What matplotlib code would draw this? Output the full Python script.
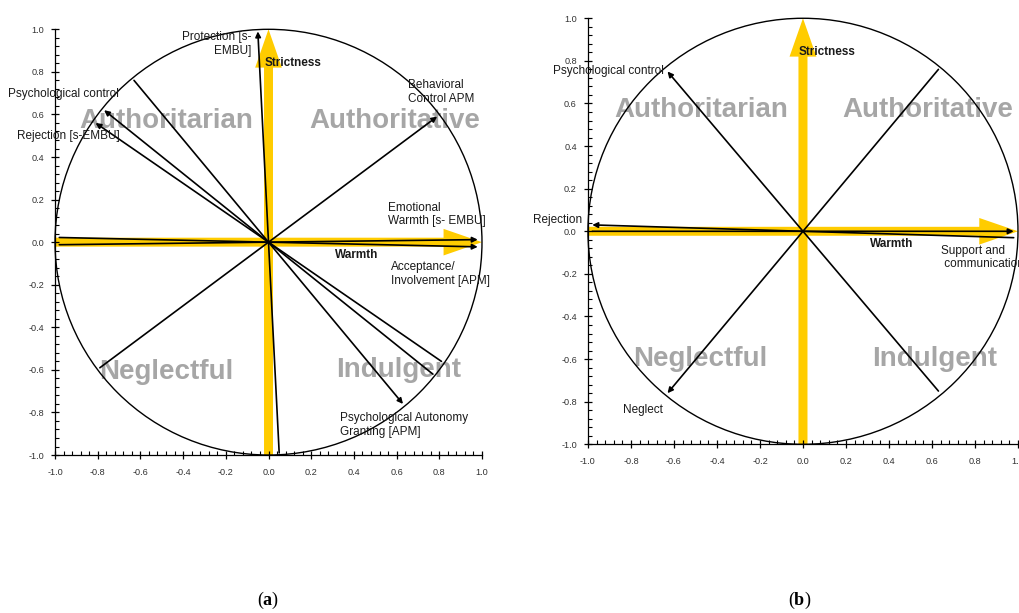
import matplotlib.pyplot as plt
from matplotlib.patches import Circle
from matplotlib.ticker import MultipleLocator

plt.rcParams['font.family'] = 'Liberation Sans'
plt.rcParams['axes.unicode_minus'] = False
plt.rcParams['mathtext.fontset'] = 'custom'
plt.rcParams['mathtext.rm'] = 'Liberation Serif'
plt.rcParams['mathtext.bf'] = 'Liberation Serif:bold'

# (a) loadings of the parenting scales on warmth / strictness
names_a = ["Protection [s-\nEMBU]", "Psychological control", "Rejection [s-EMBU]",
           "Behavioral\nControl APM", "Emotional\nWarmth [s- EMBU]",
           "Acceptance/\nInvolvement [APM]", "Psychological Autonomy\nGranting [APM]"]
warmth_a = [-0.05, -0.77, -0.81, 0.79, 0.98, 0.98, 0.63]
strict_a = [0.99, 0.62, 0.56, 0.59, 0.012, -0.022, -0.76]

# (b) loadings of the family measures
names_b = ["Psychological control", "Rejection", "Support and\n communication", "Neglect"]
warmth_b = [-0.63, -0.98, 0.98, -0.63]
strict_b = [0.75, 0.03, 0.0, -0.76]

styles = ["Authoritarian", "Authoritative", "Neglectful", "Indulgent"]

# where each variable name sits (x, y, ha)
label_pos_a = [(-0.08, 0.93, 'right'), (-1.22, 0.694, 'left'), (-1.18, 0.50, 'left'),
               (0.653, 0.705, 'left'), (0.559, 0.13, 'left'), (0.575, -0.15, 'left'),
               (0.336, -0.858, 'left')]
label_pos_b = [(-1.161, 0.751, 'left'), (-1.257, 0.052, 'left'),
               (0.64, -0.123, 'left'), (-0.839, -0.837, 'left')]
style_pos_a = [(-0.48, 0.57), (0.59, 0.57), (-0.48, -0.61), (0.61, -0.60)]
style_pos_b = [(-0.474, 0.57), (0.58, 0.57), (-0.48, -0.60), (0.61, -0.60)]

yellow = '#FFCC00'
ink = '#1a1a1a'


def draw_panel(ax, names, xs, ys, label_pos, style_pos):
    ax.set_xlim(-1, 1)
    ax.set_ylim(-1, 1)
    for side in ('top', 'right'):
        ax.spines[side].set_visible(False)
    ax.spines['left'].set_linewidth(0.9)
    ax.spines['bottom'].set_linewidth(0.9)
    ax.xaxis.set_major_locator(MultipleLocator(0.2))
    ax.yaxis.set_major_locator(MultipleLocator(0.2))
    ax.xaxis.set_minor_locator(MultipleLocator(0.04))
    ax.yaxis.set_minor_locator(MultipleLocator(0.04))
    ax.xaxis.set_major_formatter('{x:.1f}')
    ax.yaxis.set_major_formatter('{x:.1f}')
    ax.tick_params(which='major', direction='inout', length=6, width=0.9,
                   labelsize=6.6, labelcolor='#333333')
    ax.tick_params(which='minor', direction='in', length=3, width=0.8)
    ax.tick_params(axis='x', which='major', pad=6)
    ax.tick_params(axis='y', which='major', pad=5)

    # warmth and strictness axes
    arrow_kw = dict(width=0.042, head_width=0.125, head_length=0.18,
                    length_includes_head=True, fc=yellow, ec='none', zorder=1, clip_on=False)
    ax.arrow(-1, 0, 2, 0, **arrow_kw)
    ax.arrow(0, -1, 0, 2, **arrow_kw)
    ax.text(-0.02, 0.84, "Strictness", fontsize=8.5, fontweight='bold', color=ink,
            ha='left', va='center', zorder=4)
    ax.text(0.31, -0.06, "Warmth", fontsize=8.5, fontweight='bold', color=ink,
            ha='left', va='center', zorder=4)

    ax.add_patch(Circle((0, 0), 1, fill=False, ec='black', lw=1.0, zorder=3, clip_on=False))

    for (sx, sy), s in zip(style_pos, styles):
        ax.text(sx, sy, s, fontsize=20, fontweight='bold', color='#A6A6A6',
                ha='center', va='center', zorder=2)

    for x, y, name, (lx, ly, ha) in zip(xs, ys, names, label_pos):
        ax.annotate('', xy=(x, y), xytext=(-x, -y),
                    arrowprops=dict(arrowstyle='-|>', color='black', lw=1.2,
                                    mutation_scale=8, shrinkA=0, shrinkB=0),
                    zorder=3, annotation_clip=False)
        ax.text(lx, ly, name, fontsize=8.5, color=ink, ha=ha, va='center',
                multialignment=ha, linespacing=1.2, zorder=4, clip_on=False)


fig = plt.figure(figsize=(10.19, 6.13), dpi=100)
ax_a = fig.add_axes([0.054, 0.2577, 0.419, 0.6945])
ax_b = fig.add_axes([0.577, 0.2752, 0.422, 0.695])

draw_panel(ax_a, names_a, warmth_a, strict_a, label_pos_a, style_pos_a)
draw_panel(ax_b, names_b, warmth_b, strict_b, label_pos_b, style_pos_b)

fig.text(268 / 1019, 1 - 600 / 613, r'($\mathbf{a}$)', fontsize=13,
         family='Liberation Serif', ha='center', va='center')
fig.text(800 / 1019, 1 - 600 / 613, r'($\mathbf{b}$)', fontsize=13,
         family='Liberation Serif', ha='center', va='center')

fig.savefig('out.png', dpi=100, facecolor='white')
